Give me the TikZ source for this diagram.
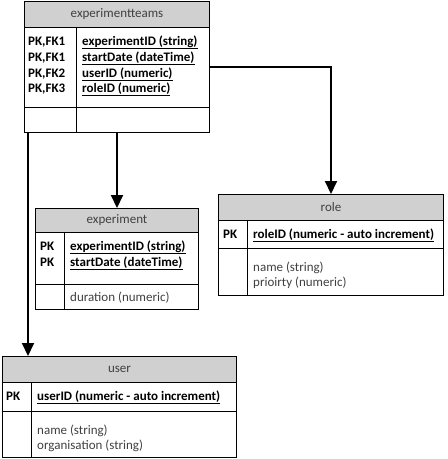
\documentclass[tikz,border=0pt]{standalone}
\usepackage{fontspec}
\setmainfont{Carlito}
\usetikzlibrary{arrows.meta}
\definecolor{hdrgray}{RGB}{208,208,208}
\definecolor{txtgray}{RGB}{64,64,64}

\begin{document}
\begin{tikzpicture}
[x = 1pt,
y = -1pt,
font = \fontsize{13}{15.7}\selectfont,
tbl/.style = {draw, line width=1pt, inner sep=0pt, anchor=north west},
hdr/.style = {draw, fill=hdrgray, line width=1pt, inner sep=0pt, anchor=north west, text=txtgray},
keytxt/.style = {anchor=base west, inner sep=0pt, font=\fontsize{13}{15.7}\selectfont\bfseries},
pktxt/.style = {anchor=base west, inner sep=0pt, font=\fontsize{13}{15.7}\selectfont\bfseries},
attrtxt/.style = {anchor=base west, inner sep=0pt, text=txtgray},
link/.style = {line width=2pt, -{Triangle[width=12pt,length=13pt]}}]

\useasboundingbox (0,0) rectangle (448,459);

% experimentteams
\node[tbl, minimum width=185pt, minimum height=131pt] (teams) at (24,1) {};
\node[hdr, minimum width=185pt, minimum height=26pt] (teamsHdr) at (24,1) {experimentteams};
\draw (76,27) -- (76,132);
\draw (24,107) -- (209,107);
\node[keytxt] (teamsK1) at (28,45) {PK,FK1};
\node[keytxt] (teamsK2) at (28,61) {PK,FK1};
\node[keytxt] (teamsK3) at (28,77) {PK,FK2};
\node[keytxt] (teamsK4) at (28,92) {PK,FK3};
\node[pktxt] (teamsF1) at (82,45) {\underline{experimentID (string)}};
\node[pktxt] (teamsF2) at (82,61) {\underline{startDate (dateTime)}};
\node[pktxt] (teamsF3) at (82,77) {\underline{userID (numeric)}};
\node[pktxt] (teamsF4) at (82,92) {\underline{roleID (numeric)}};

% experiment
\node[tbl, minimum width=163pt, minimum height=101pt] (exp) at (35,208) {};
\node[hdr, minimum width=163pt, minimum height=24pt] (expHdr) at (35,208) {experiment};
\draw (64,232) -- (64,309);
\draw (35,284) -- (198,284);
\node[keytxt] (expK1) at (40,250) {PK};
\node[keytxt] (expK2) at (40,266) {PK};
\node[pktxt] (expF1) at (70,250) {\underline{experimentID (string)}};
\node[pktxt] (expF2) at (70,266) {\underline{startDate (dateTime)}};
\node[attrtxt] (expA1) at (70,301) {duration (numeric)};

% role
\node[tbl, minimum width=225pt, minimum height=101pt] (role) at (218,194) {};
\node[hdr, minimum width=225pt, minimum height=26pt] (roleHdr) at (218,194) {role};
\draw (247,220) -- (247,295);
\draw (218,248) -- (443,248);
\node[keytxt] (roleK1) at (223,238) {PK};
\node[pktxt] (roleF1) at (253,238) {\underline{roleID (numeric - auto increment)}};
\node[attrtxt] (roleA1) at (253,271) {name (string)};
\node[attrtxt] (roleA2) at (253,286) {prioirty (numeric)};

% user
\node[tbl, minimum width=234pt, minimum height=101pt] (user) at (2,356) {};
\node[hdr, minimum width=234pt, minimum height=26pt] (userHdr) at (2,356) {user};
\draw (31,382) -- (31,457);
\draw (2,411) -- (236,411);
\node[keytxt] (userK1) at (6,400) {PK};
\node[pktxt] (userF1) at (37,400) {\underline{userID (numeric - auto increment)}};
\node[attrtxt] (userA1) at (37,434) {name (string)};
\node[attrtxt] (userA2) at (37,449) {organisation (string)};

% links
\coordinate (userDrop) at (28,0);
\draw[link] (teams.south -| userDrop) -- (user.north -| userDrop);
\draw[link] (teams.south -| exp.north) -- (exp.north);
\draw[link] (teams.east) -| (role.north);
\end{tikzpicture}
\end{document}
